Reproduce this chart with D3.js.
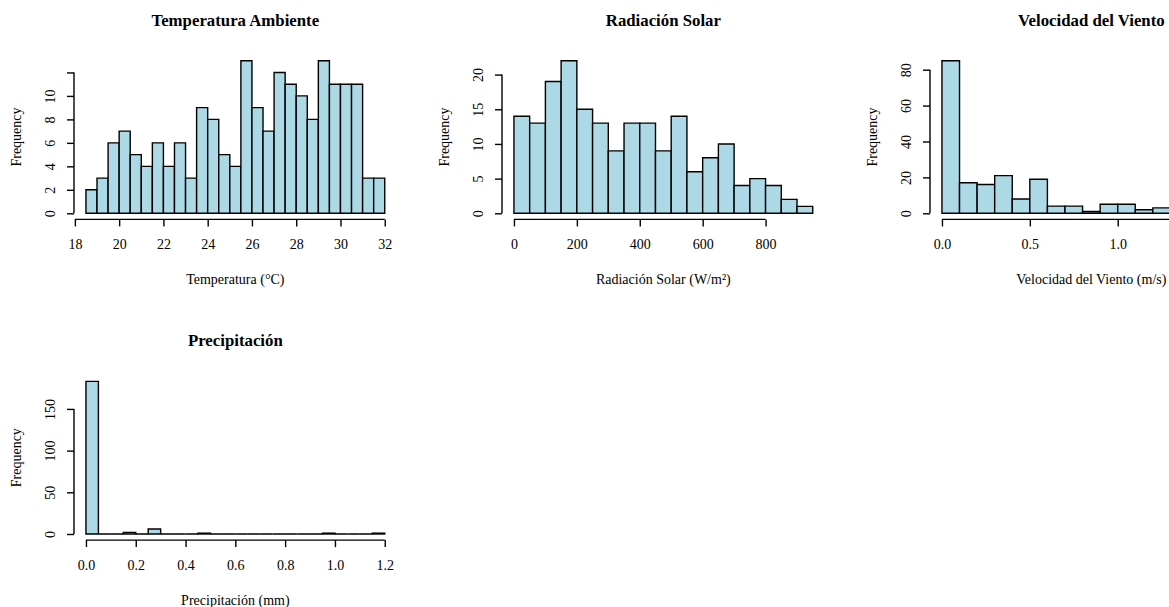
<!DOCTYPE html>
<html>
<head>
<meta charset="utf-8">
<script src="https://cdn.jsdelivr.net/npm/d3@7"></script>
<style>
    body { margin: 0; background: #fff; }
    text { font-family: "Liberation Serif", "Times New Roman", serif; fill: #000; }
</style>
</head>
<body>
<div class="canvas"></div>
<script>
// ---- DATA (histogram breaks + counts) --- //
const tempBreaks = [18.5, 19, 19.5, 20, 20.5, 21, 21.5, 22, 22.5, 23, 23.5, 24, 24.5, 25, 25.5,
    26, 26.5, 27, 27.5, 28, 28.5, 29, 29.5, 30, 30.5, 31, 31.5, 32];
const tempCounts = [2, 3, 6, 7, 5, 4, 6, 4, 6, 3, 9, 8, 5, 4, 13, 9, 7, 12, 11, 10, 8, 13, 11, 11, 11, 3, 3];
const tempXTicks = [18, 20, 22, 24, 26, 28, 30, 32];
const tempYTicks = [0, 2, 4, 6, 8, 10, 12];
const tempYLabels = ['0', '2', '4', '6', '8', '10', ''];

const radBreaks = [0, 50, 100, 150, 200, 250, 300, 350, 400, 450, 500, 550, 600, 650, 700, 750, 800, 850, 900, 950];
const radCounts = [14, 13, 19, 22, 15, 13, 9, 13, 13, 9, 14, 6, 8, 10, 4, 5, 4, 2, 1];
const radXTicks = [0, 200, 400, 600, 800];
const radYTicks = [0, 5, 10, 15, 20];

const windBreaks = [0, 0.1, 0.2, 0.3, 0.4, 0.5, 0.6, 0.7, 0.8, 0.9, 1.0, 1.1, 1.2, 1.3, 1.4, 1.5, 1.6, 1.7];
const windCounts = [85, 17, 16, 21, 8, 19, 4, 4, 1, 5, 5, 2, 3, 2, 1, 0, 1];
const windXTicks = [0, 0.5, 1.0, 1.5];
const windXLabels = ['0.0', '0.5', '1.0', '']; // 1.5 falls past the right edge
const windYTicks = [0, 20, 40, 60, 80];

const precBreaks = [0, 0.05, 0.1, 0.15, 0.2, 0.25, 0.3, 0.35, 0.4, 0.45, 0.5, 0.55, 0.6, 0.65, 0.7, 0.75,
    0.8, 0.85, 0.9, 0.95, 1.0, 1.05, 1.1, 1.15, 1.2];
const precCounts = [183, 0, 0, 2, 0, 6, 0, 0, 0, 1, 0, 0, 0, 0, 0, 0, 0, 0, 0, 1, 0, 0, 0, 1];
const precXTicks = [0, 0.2, 0.4, 0.6, 0.8, 1.0, 1.2];
const precYTicks = [0, 50, 100, 150];

const panels = [
    { title: 'Temperatura Ambiente', xlab: 'Temperatura (°C)', breaks: tempBreaks, counts: tempCounts,
      xTicks: tempXTicks, xFmt: d3.format('d'), yTicks: tempYTicks, yLabels: tempYLabels, col: 0, row: 0 },
    { title: 'Radiación Solar', xlab: 'Radiación Solar (W/m²)', breaks: radBreaks, counts: radCounts,
      xTicks: radXTicks, xFmt: d3.format('d'), yTicks: radYTicks, col: 1, row: 0 },
    { title: 'Velocidad del Viento', xlab: 'Velocidad del Viento (m/s)', breaks: windBreaks, counts: windCounts,
      xTicks: windXTicks, xFmt: (d, i) => windXLabels[i], yTicks: windYTicks, col: 2, row: 0 },
    { title: 'Precipitación', xlab: 'Precipitación (mm)', breaks: precBreaks, counts: precCounts,
      xTicks: precXTicks, xFmt: d3.format('.1f'), yTicks: precYTicks, col: 0, row: 1 }
];


// ---- LAYOUT --- //
const width = 1169, height = 607;
const plotW = 322.7, plotH = 164.8;
const colX = [74, 502, 930];
const rowY = [54.6, 375.3];

const svg = d3.select('.canvas')
    .append('svg')
    .attr('width', width)
    .attr('height', height);


// ---- DRAW --- //
panels.forEach(p => {
    const g = svg.append('g')
        .attr('transform', `translate(${colX[p.col]},${rowY[p.row]})`);

    // R pads the axis range by 4% on each side
    const lo = p.breaks[0], hi = p.breaks[p.breaks.length - 1];
    const padX = (hi - lo) * 0.04;
    const x = d3.scaleLinear().domain([lo - padX, hi + padX]).range([0, plotW]);
    const ymax = d3.max(p.counts);
    const y = d3.scaleLinear().domain([-ymax * 0.04, ymax * 1.04]).range([plotH, 0]);

    const bins = p.counts.map((c, i) => ({ x0: p.breaks[i], x1: p.breaks[i + 1], n: c }));

    // closed paths so that empty bins still show as a flat outline
    g.selectAll('path.bar')
        .data(bins)
        .enter().append('path')
        .attr('class', 'bar')
        .attr('d', d => `M${x(d.x0)},${y(0)}V${y(d.n)}H${x(d.x1)}V${y(0)}Z`)
        .attr('fill', '#add8e6')
        .attr('stroke', '#000')
        .attr('stroke-width', 1.4);

    // x axis
    const xAxis = d3.axisBottom(x)
        .tickValues(p.xTicks)
        .tickFormat(p.xFmt)
        .tickSizeOuter(0)
        .tickSize(7);
    const xg = g.append('g')
        .attr('transform', `translate(0,${plotH})`)
        .call(xAxis);
    xg.select('.domain').remove();
    xg.selectAll('line').attr('stroke-width', 1.4);
    xg.selectAll('text')
        .attr('y', 30)
        .attr('dy', 0)
        .style('font-size', '14px')
        .style('font-family', '"Liberation Serif", serif');
    xg.append('line')
        .attr('x1', x(p.xTicks[0]))
        .attr('x2', x(p.xTicks[p.xTicks.length - 1]))
        .attr('stroke', '#000')
        .attr('stroke-width', 1.4);

    // y axis
    const yAxis = d3.axisLeft(y)
        .tickValues(p.yTicks)
        .tickFormat((d, i) => p.yLabels ? p.yLabels[i] : d)
        .tickSizeOuter(0)
        .tickSize(7);
    const yg = g.append('g').call(yAxis);
    yg.select('.domain').remove();
    yg.selectAll('line').attr('stroke-width', 1.4);
    yg.selectAll('text')
        .attr('x', 0)
        .attr('dy', 0)
        .attr('text-anchor', 'middle')
        .attr('transform', 'translate(-19,0) rotate(-90)')
        .style('font-size', '14px')
        .style('font-family', '"Liberation Serif", serif');
    yg.append('line')
        .attr('y1', y(p.yTicks[0]))
        .attr('y2', y(p.yTicks[p.yTicks.length - 1]))
        .attr('stroke', '#000')
        .attr('stroke-width', 1.4);

    // titles / labels
    g.append('text')
        .attr('x', plotW / 2)
        .attr('y', -29)
        .attr('text-anchor', 'middle')
        .style('font-size', '16.8px')
        .style('font-weight', 'bold')
        .text(p.title);

    g.append('text')
        .attr('x', plotW / 2)
        .attr('y', plotH + 64.6)
        .attr('text-anchor', 'middle')
        .style('font-size', '14px')
        .text(p.xlab);

    g.append('text')
        .attr('transform', `translate(-53,${plotH / 2}) rotate(-90)`)
        .attr('text-anchor', 'middle')
        .style('font-size', '14px')
        .text('Frequency');
});
</script>
</body>
</html>
